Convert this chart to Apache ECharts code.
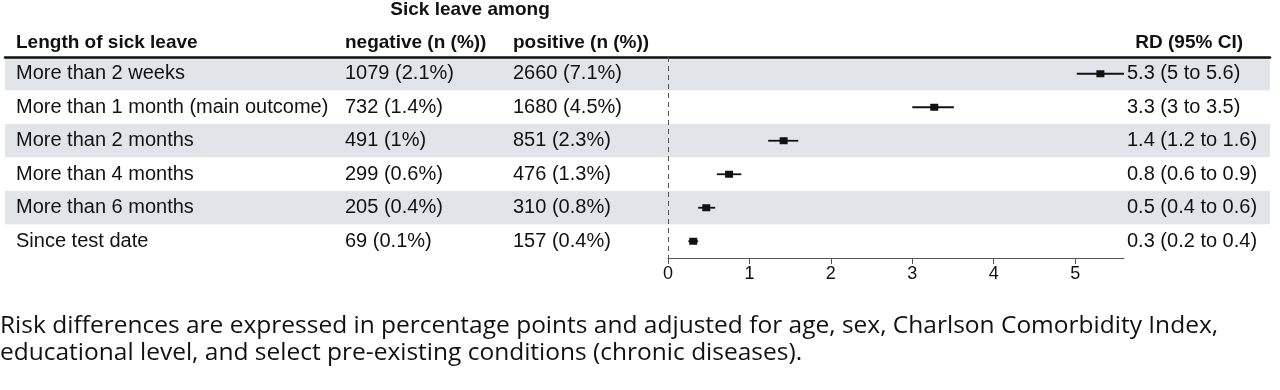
<!DOCTYPE html>
<html>
<head>
<meta charset="utf-8">
<script src="https://cdn.jsdelivr.net/npm/echarts@6/dist/echarts.min.js"></script>
<style>
  html, body { margin: 0; padding: 0; background: #fff; }
  #chart { width: 1280px; height: 390px; }
</style>
</head>
<body>
<div id="chart"></div>
<script>
// table rows
const categories = [
  'More than 2 weeks',
  'More than 1 month (main outcome)',
  'More than 2 months',
  'More than 4 months',
  'More than 6 months',
  'Since test date'
];
const negative = ['1079 (2.1%)', '732 (1.4%)', '491 (1%)', '299 (0.6%)', '205 (0.4%)', '69 (0.1%)'];
const positive = ['2660 (7.1%)', '1680 (4.5%)', '851 (2.3%)', '476 (1.3%)', '310 (0.8%)', '157 (0.4%)'];
const rdText = ['5.3 (5 to 5.6)', '3.3 (3 to 3.5)', '1.4 (1.2 to 1.6)', '0.8 (0.6 to 0.9)', '0.5 (0.4 to 0.6)', '0.3 (0.2 to 0.4)'];

// risk differences as drawn
const rdPoint = [5.31, 3.27, 1.42, 0.75, 0.47, 0.31];
const rdLow = [5.02, 3.0, 1.23, 0.6, 0.37, 0.25];
const rdHigh = [5.6, 3.51, 1.6, 0.9, 0.58, 0.37];
const xTicks = [0, 1, 2, 3, 4, 5];

const font = 'Liberation Sans, Arial, sans-serif';
const txt = '#111';
const fs = 20;

const chart = echarts.init(document.getElementById('chart'));

// yAxis that only shows a text column
function colAxis(data, offset, pos, margin) {
  return {
    type: 'category',
    gridIndex: 1,
    data: data,
    inverse: true,
    position: pos,
    offset: offset,
    axisLine: { show: false },
    axisTick: { show: false },
    axisLabel: { align: 'left', margin: margin, fontSize: fs, color: txt, fontFamily: font }
  };
}

function head(text, pos) {
  return Object.assign({
    text: text, top: 33, padding: 0,
    textStyle: { fontSize: 19, fontWeight: 'bold', color: txt, fontFamily: font }
  }, pos);
}

const option = {
  animation: false,
  title: [
    head('Sick leave among', { left: 470, top: 0, textAlign: 'center' }),
    head('Length of sick leave', { left: 16 }),
    head('negative (n (%))', { left: 345 }),
    head('positive (n (%))', { left: 513 }),
    head('RD (95% CI)', { right: 37 }),
    { text: 'Risk differences are expressed in percentage points and adjusted for age, sex, Charlson Comorbidity Index,\neducational level, and select pre-existing conditions (chronic diseases).',
      left: 0, top: 313, padding: 0,
      textStyle: { fontSize: 24.5, fontWeight: 'normal', color: '#111', lineHeight: 27,
        fontFamily: 'Open Sans, Lato, sans-serif' } }
  ],
  grid: [
    // background bands across the table
    { left: 5, right: 10, top: 57, height: 201 },
    // forest plot area
    { left: 668, right: 156, top: 57, height: 201 }
  ],
  xAxis: [
    { type: 'value', gridIndex: 0, position: 'top', min: 0, max: 1,
      axisLine: { show: true, lineStyle: { color: '#111', width: 2.5 } },
      axisTick: { show: false }, axisLabel: { show: false }, splitLine: { show: false } },
    { type: 'value', gridIndex: 1, min: 0, max: 5.6,
      axisLine: { show: true, onZero: false, lineStyle: { color: '#555', width: 1 } },
      axisTick: { show: true, length: 6, customValues: xTicks, lineStyle: { color: '#555' } },
      axisLabel: { customValues: xTicks, margin: 7, fontSize: 18, color: txt, fontFamily: font },
      splitLine: { show: false } }
  ],
  yAxis: [
    { type: 'category', gridIndex: 0, data: categories, inverse: true,
      axisLine: { show: false }, axisTick: { show: false }, axisLabel: { show: false },
      splitArea: { show: true, areaStyle: { color: ['#e1e5ea', '#ffffff'] } } },
    colAxis(categories, 652, 'left', 0),
    colAxis(negative, 323, 'left', 0),
    colAxis(positive, 155, 'left', 0),
    colAxis(rdText, 0, 'right', 3)
  ],
  series: [
    {
      type: 'custom',
      xAxisIndex: 1,
      yAxisIndex: 1,
      data: categories.map((c, i) => [rdPoint[i], i, rdLow[i], rdHigh[i]]),
      renderItem: function (params, api) {
        const mid = api.coord([api.value(0), api.value(1)]);
        const lo = api.coord([api.value(2), api.value(1)]);
        const hi = api.coord([api.value(3), api.value(1)]);
        return {
          type: 'group',
          children: [
            { type: 'line', shape: { x1: lo[0], y1: lo[1], x2: hi[0], y2: hi[1] },
              style: { stroke: '#111', lineWidth: 1.8 } },
            { type: 'rect', shape: { x: mid[0] - 4, y: mid[1] - 3.5, width: 8, height: 7 },
              style: { fill: '#111' } }
          ]
        };
      },
      markLine: {
        silent: true,
        symbol: 'none',
        label: { show: false },
        lineStyle: { type: [5, 4], color: '#555', width: 1 },
        data: [{ xAxis: 0 }]
      }
    }
  ]
};

chart.setOption(option);
</script>
</body>
</html>
